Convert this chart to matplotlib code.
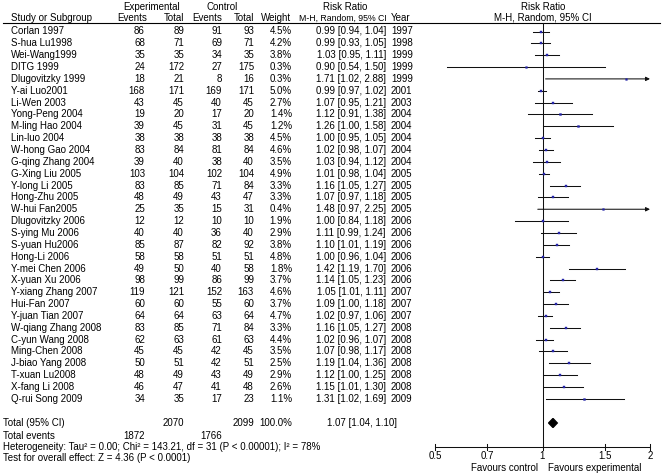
import matplotlib
matplotlib.use("Agg")
import matplotlib.pyplot as plt
import numpy as np

plt.rcParams['font.family'] = ['Liberation Sans', 'DejaVu Sans']

studies = ["Corlan 1997", "S-hua Lu1998", "Wei-Wang1999", "DITG 1999", "Dlugovitzky 1999",
           "Y-ai Luo2001", "Li-Wen 2003", "Yong-Peng 2004", "M-ling Hao 2004", "Lin-luo 2004",
           "W-hong Gao 2004", "G-qing Zhang 2004", "G-Xing Liu 2005", "Y-long Li 2005",
           "Hong-Zhu 2005", "W-hui Fan2005", "Dlugovitzky 2006", "S-ying Mu 2006",
           "S-yuan Hu2006", "Hong-Li 2006", "Y-mei Chen 2006", "X-yuan Xu 2006",
           "Y-xiang Zhang 2007", "Hui-Fan 2007", "Y-juan Tian 2007", "W-qiang Zhang 2008",
           "C-yun Wang 2008", "Ming-Chen 2008", "J-biao Yang 2008", "T-xuan Lu2008",
           "X-fang Li 2008", "Q-rui Song 2009"]
exp_events = [86, 68, 35, 24, 18, 168, 43, 19, 39, 38, 83, 39, 103, 83, 48, 25, 12, 40, 85, 58,
              49, 98, 119, 60, 64, 83, 62, 45, 50, 48, 46, 34]
exp_total = [89, 71, 35, 172, 21, 171, 45, 20, 45, 38, 84, 40, 104, 85, 49, 35, 12, 40, 87, 58,
             50, 99, 121, 60, 64, 85, 63, 45, 51, 49, 47, 35]
ctl_events = [91, 69, 34, 27, 8, 169, 40, 17, 31, 38, 81, 38, 102, 71, 43, 15, 10, 36, 82, 51,
              40, 86, 152, 55, 63, 71, 61, 42, 42, 43, 41, 17]
ctl_total = [93, 71, 35, 175, 16, 171, 45, 20, 45, 38, 84, 40, 104, 84, 47, 31, 10, 40, 92, 51,
             58, 99, 163, 60, 64, 84, 63, 45, 51, 49, 48, 23]
weights = [4.5, 4.2, 3.8, 0.3, 0.3, 5.0, 2.7, 1.4, 1.2, 4.5, 4.6, 3.5, 4.9, 3.3, 3.3, 0.4, 1.9,
           2.9, 3.8, 4.8, 1.8, 3.7, 4.6, 3.7, 4.7, 3.3, 4.4, 3.5, 2.5, 2.9, 2.6, 1.1]
rr = [0.99, 0.99, 1.03, 0.90, 1.71, 0.99, 1.07, 1.12, 1.26, 1.00, 1.02, 1.03, 1.01, 1.16, 1.07,
      1.48, 1.00, 1.11, 1.10, 1.00, 1.42, 1.14, 1.05, 1.09, 1.02, 1.16, 1.02, 1.07, 1.19, 1.12,
      1.15, 1.31]
rr_lo = [0.94, 0.93, 0.95, 0.54, 1.02, 0.97, 0.95, 0.91, 1.00, 0.95, 0.98, 0.94, 0.98, 1.05, 0.97,
         0.97, 0.84, 0.99, 1.01, 0.96, 1.19, 1.05, 1.01, 1.00, 0.97, 1.05, 0.96, 0.98, 1.04, 1.00,
         1.01, 1.02]
rr_hi = [1.04, 1.05, 1.11, 1.50, 2.88, 1.02, 1.21, 1.38, 1.58, 1.05, 1.07, 1.12, 1.04, 1.27, 1.18,
         2.25, 1.18, 1.24, 1.19, 1.04, 1.70, 1.23, 1.11, 1.18, 1.06, 1.27, 1.07, 1.17, 1.36, 1.25,
         1.30, 1.69]
years = [1997, 1998, 1999, 1999, 1999, 2001, 2003, 2004, 2004, 2004, 2004, 2004, 2005, 2005, 2005,
         2005, 2006, 2006, 2006, 2006, 2006, 2006, 2007, 2007, 2007, 2008, 2008, 2008, 2008, 2008,
         2008, 2009]

total_exp, total_ctl = 2070, 2099
total_exp_events, total_ctl_events = 1872, 1766
total_rr, total_lo, total_hi = 1.07, 1.04, 1.10
x_ticks = [0.5, 0.7, 1, 1.5, 2]
x_tick_labels = ["0.5", "0.7", "1", "1.5", "2"]
heterogeneity = "Heterogeneity: Tau\u00b2 = 0.00; Chi\u00b2 = 143.21, df = 31 (P < 0.00001); I\u00b2 = 78%"
overall = "Test for overall effect: Z = 4.36 (P < 0.0001)"

W, H = 662, 475
fig = plt.figure(figsize=(W / 100, H / 100), dpi=100)
tax = fig.add_axes([0, 0, 1, 1])
tax.set_xlim(0, W)
tax.set_ylim(H, 0)
tax.axis('off')

fs = 7
row0, dy = 31.5, 11.85
rows = [row0 + i * dy for i in range(len(studies))]

# headers
tax.text(152, 7, "Experimental", ha='center', va='center', fontsize=fs)
tax.text(222, 7, "Control", ha='center', va='center', fontsize=fs)
tax.text(345, 7, "Risk Ratio", ha='center', va='center', fontsize=fs)
tax.text(11, 18, "Study or Subgroup", ha='left', va='center', fontsize=fs)
tax.text(147, 18, "Events", ha='right', va='center', fontsize=fs)
tax.text(184, 18, "Total", ha='right', va='center', fontsize=fs)
tax.text(222, 18, "Events", ha='right', va='center', fontsize=fs)
tax.text(254, 18, "Total", ha='right', va='center', fontsize=fs)
tax.text(291, 18, "Weight", ha='right', va='center', fontsize=fs)
tax.text(387, 18, "M-H, Random, 95% CI", ha='right', va='center', fontsize=6.3)
tax.text(391, 18, "Year", ha='left', va='center', fontsize=fs)
tax.text(543, 7, "Risk Ratio", ha='center', va='center', fontsize=fs)
tax.text(543, 18, "M-H, Random, 95% CI", ha='center', va='center', fontsize=fs)
tax.plot([3, 660], [22.5, 22.5], color='black', lw=0.8)

for i, y in enumerate(rows):
    tax.text(11, y, studies[i], ha='left', va='center', fontsize=fs)
    tax.text(145, y, str(exp_events[i]), ha='right', va='center', fontsize=fs)
    tax.text(184, y, str(exp_total[i]), ha='right', va='center', fontsize=fs)
    tax.text(222, y, str(ctl_events[i]), ha='right', va='center', fontsize=fs)
    tax.text(254, y, str(ctl_total[i]), ha='right', va='center', fontsize=fs)
    tax.text(292, y, f"{weights[i]:.1f}%", ha='right', va='center', fontsize=fs)
    tax.text(386, y, f"{rr[i]:.2f} [{rr_lo[i]:.2f}, {rr_hi[i]:.2f}]", ha='right', va='center', fontsize=fs)
    tax.text(391, y, str(years[i]), ha='left', va='center', fontsize=fs)

y_tot = 423
tax.text(3, y_tot, "Total (95% CI)", ha='left', va='center', fontsize=fs)
tax.text(184, y_tot, str(total_exp), ha='right', va='center', fontsize=fs)
tax.text(254, y_tot, str(total_ctl), ha='right', va='center', fontsize=fs)
tax.text(292, y_tot, "100.0%", ha='right', va='center', fontsize=fs)
tax.text(397, y_tot, f"{total_rr:.2f} [{total_lo:.2f}, {total_hi:.2f}]", ha='right', va='center', fontsize=fs)
tax.text(3, 436, "Total events", ha='left', va='center', fontsize=fs)
tax.text(145, 436, str(total_exp_events), ha='right', va='center', fontsize=fs)
tax.text(222, 436, str(total_ctl_events), ha='right', va='center', fontsize=fs)
tax.text(3, 447, heterogeneity, ha='left', va='center', fontsize=fs)
tax.text(3, 458, overall, ha='left', va='center', fontsize=fs)
tax.text(538, 468, "Favours control", ha='right', va='center', fontsize=fs)
tax.text(548, 468, "Favours experimental", ha='left', va='center', fontsize=fs)

# forest axes
x0, x1 = 435, 650
fax = fig.add_axes([x0 / W, 0, (x1 - x0) / W, 1])
fax.set_xscale('log')
fax.set_xlim(0.5, 2)
fax.set_ylim(H, 0)
fax.axis('off')

lc = '#111111'
mc = '#2424a8'
lw = 0.75
fax.plot([1, 1], [22.5, 447], color=lc, lw=lw, clip_on=False)
for i, y in enumerate(rows):
    lo = max(rr_lo[i], 0.5)
    hi = rr_hi[i]
    if hi > 2:
        fax.annotate('', xy=(2.0, y), xytext=(lo, y),
                     arrowprops=dict(arrowstyle='-|>', color=lc, lw=lw,
                                     mutation_scale=6, shrinkA=0, shrinkB=0),
                     annotation_clip=False)
    else:
        fax.plot([lo, hi], [y, y], color=lc, lw=lw, clip_on=False)
    fax.plot(rr[i], y, marker='s', ms=1.2 + 0.15 * weights[i], color=mc,
             mec=mc, mew=0.3, clip_on=False, zorder=3)

dh = 4.5
fax.fill([total_lo, total_rr, total_hi, total_rr],
         [y_tot, y_tot - dh, y_tot, y_tot + dh], color='black', clip_on=False)

# axis
y_ax = 447
fax.plot([x_ticks[0], x_ticks[-1]], [y_ax, y_ax], color=lc, lw=lw, clip_on=False)
for t, lab in zip(x_ticks, x_tick_labels):
    fax.plot([t, t], [y_ax - 3, y_ax + 3], color=lc, lw=lw, clip_on=False)
    fax.text(t, 456, lab, ha='center', va='center', fontsize=fs)

fig.savefig("out.png", dpi=100)
